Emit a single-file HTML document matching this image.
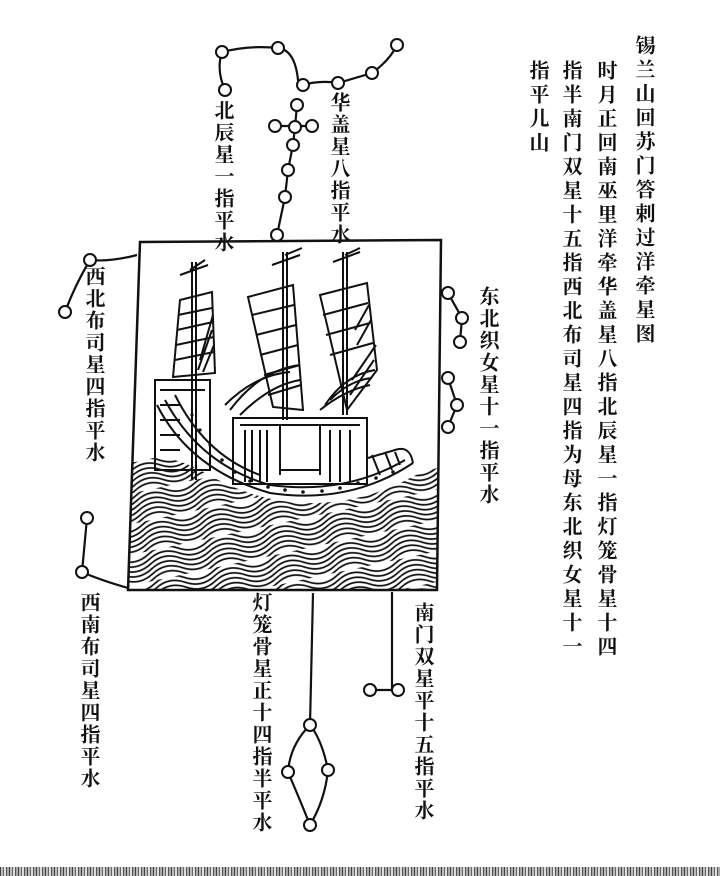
<!DOCTYPE html>
<html><head><meta charset="utf-8"><style>
html,body{margin:0;padding:0;background:#fff;}
body{width:720px;height:876px;position:relative;overflow:hidden;font-family:"Liberation Sans","Noto Serif CJK SC","Noto Sans CJK SC",serif;}
.c{position:absolute;writing-mode:vertical-rl;font-size:20px;font-weight:bold;color:#111;line-height:1;white-space:nowrap;}
.strip{position:absolute;left:0;top:867px;width:720px;height:9px;background:repeating-linear-gradient(90deg,#444 0 1px,#bbb 1px 3px,#666 3px 4px,#ddd 4px 6px,#555 6px 7px,#aaa 7px 9px);}
</style></head><body>
<svg width="720" height="876" style="position:absolute;left:0;top:0" xmlns="http://www.w3.org/2000/svg">
<defs>
<pattern id="w" width="60" height="30" patternUnits="userSpaceOnUse" patternTransform="rotate(-12)">
<g fill="none" stroke="#111" stroke-width="1.7">
<path d="M-30 3 Q-15 -6 0 3 T30 3 T60 3 T90 3"/>
<path d="M-30 8 Q-15 -1 0 8 T30 8 T60 8 T90 8"/>
<path d="M-30 13 Q-15 4 0 13 T30 13 T60 13 T90 13"/>
<path d="M-30 18 Q-15 9 0 18 T30 18 T60 18 T90 18"/>
<path d="M-30 23 Q-15 14 0 23 T30 23 T60 23 T90 23"/>
<path d="M-30 28 Q-15 19 0 28 T30 28 T60 28 T90 28"/>
</g></pattern>
<clipPath id="box"><polygon points="140,242 441,240 437,590 128,590"/></clipPath>
</defs>
<g clip-path="url(#box)">
<path d="M128 460 Q160 450 200 470 Q250 500 300 503 Q360 505 410 478 Q430 468 441 468 L441 592 L128 592 Z" fill="url(#w)"/>
</g>
<polygon points="140,242 441,240 437,590 128,590" fill="none" stroke="#111" stroke-width="2.5"/>
<g fill="none" stroke="#111" stroke-width="2">
<line x1="192" y1="262" x2="192" y2="480"/><line x1="196" y1="262" x2="196" y2="480"/>
<line x1="283" y1="252" x2="283" y2="420"/><line x1="287" y1="252" x2="287" y2="420"/>
<line x1="343" y1="252" x2="343" y2="415"/><line x1="347" y1="252" x2="347" y2="415"/>
<path d="M180 275 L208 265 M190 270 L205 260 M272 265 L300 255 M285 255 L302 248 M333 262 L360 252 M345 255 L360 248"/>
<path d="M180 300 L212 292 L215 373 L173 377 Z"/>
<path d="M178 315 L212 308 M177 330 L213 322 M176 345 L214 337 M175 360 L214 352 M198 370 L212 330 M200 360 L213 315 M203 372 L214 345"/>
<path d="M248 297 L293 285 L303 410 L273 407 Z"/>
<path d="M252 315 L294 305 M256 335 L296 325 M260 355 L298 345 M264 375 L300 365 M268 395 L301 385"/>
<path d="M320 295 L367 283 L377 370 L347 410 Z"/>
<path d="M323 315 L368 303 M326 335 L370 323 M330 355 L373 343 M352 380 L376 345 M350 395 L374 360 M355 330 L369 305 M357 345 L371 320"/>
<path d="M230 410 Q260 370 300 365 M240 415 Q270 385 300 380 M225 405 Q255 375 290 372 M325 405 Q345 375 375 370 M320 410 Q345 390 370 385 M330 400 Q350 380 372 378"/>
<rect x="155" y="380" width="55" height="90"/>
<path d="M160 390 L205 390 M160 405 L180 405 M160 420 L180 420 M160 435 L180 435 M160 450 L180 450"/>
<path d="M157 405 Q190 470 270 493 Q350 505 413 463"/>
<path d="M165 400 Q200 465 270 485 Q345 495 405 460"/>
<path d="M175 395 Q205 455 260 475"/>
<path d="M413 463 Q410 445 395 450 L368 458"/>
<path d="M372 455 L380 475 M385 452 L392 470 M395 452 L400 465"/>
<rect x="233" y="418" width="134" height="66"/>
<path d="M240 425 L360 425 M245 430 L245 482 M252 430 L252 482 M260 430 L260 482 M267 430 L267 482 M280 425 L280 475 M320 425 L320 475 M280 470 L320 470 M330 430 L330 482 M340 430 L340 482 M350 430 L350 482"/>
</g>
<g fill="#111">
<circle cx="192" cy="415" r="1.6"/><circle cx="200" cy="430" r="1.6"/><circle cx="210" cy="445" r="1.6"/><circle cx="222" cy="460" r="1.8"/><circle cx="235" cy="472" r="1.8"/><circle cx="250" cy="481" r="1.8"/><circle cx="268" cy="487" r="1.8"/><circle cx="285" cy="490" r="1.8"/><circle cx="303" cy="492" r="1.8"/><circle cx="322" cy="491" r="1.8"/><circle cx="340" cy="488" r="1.8"/><circle cx="358" cy="483" r="1.8"/><circle cx="376" cy="478" r="1.8"/><circle cx="393" cy="472" r="1.8"/>
</g>
<g fill="none" stroke="#111" stroke-width="2.2">
<path d="M225 90 Q216 70 222 52 Q250 45 278 48 Q295 50 298 80 L303 85 Q320 80 338 83 L372 73 Q390 60 397 45"/>
<path d="M275 126 L312 126 M297 105 L295 127 L293 145 L288 170 L285 197 L277 235"/>
<path d="M137 255 Q110 262 90 260 Q75 285 65 312"/>
<path d="M448 293 L462 318 L460 342 M448 378 L457 405 L448 427"/>
<path d="M87 518 L82 572 Q100 580 128 588"/>
<path d="M313 593 L310 725 Q290 745 288 772 Q300 800 310 825 Q325 800 328 770 Q322 740 310 725"/>
<path d="M392 592 L392 690 M370 690 L398 690"/>
</g>
<g fill="#fff" stroke="#111" stroke-width="2">
<circle cx="222" cy="52" r="6"/><circle cx="225" cy="90" r="6"/><circle cx="278" cy="48" r="6"/><circle cx="303" cy="85" r="6"/><circle cx="338" cy="83" r="6"/><circle cx="372" cy="73" r="6"/><circle cx="397" cy="45" r="6"/>
<circle cx="295" cy="127" r="6"/><circle cx="297" cy="105" r="6"/><circle cx="275" cy="126" r="6"/><circle cx="312" cy="126" r="6"/><circle cx="293" cy="145" r="6"/><circle cx="288" cy="170" r="6"/><circle cx="285" cy="197" r="6"/><circle cx="277" cy="235" r="6"/>
<circle cx="90" cy="260" r="6"/><circle cx="65" cy="312" r="6"/>
<circle cx="448" cy="293" r="6"/><circle cx="462" cy="318" r="6"/><circle cx="460" cy="342" r="6"/><circle cx="448" cy="378" r="6"/><circle cx="457" cy="405" r="6"/><circle cx="448" cy="427" r="6"/>
<circle cx="87" cy="518" r="6"/><circle cx="82" cy="572" r="6"/>
<circle cx="310" cy="725" r="6"/><circle cx="288" cy="772" r="6"/><circle cx="328" cy="770" r="6"/><circle cx="310" cy="825" r="6"/>
<circle cx="370" cy="690" r="6"/><circle cx="398" cy="690" r="6"/>
</g>
</svg>
<div class="c" style="left:633px;top:35px;letter-spacing:4px">锡兰山回苏门答剌过洋牵星图</div>
<div class="c" style="left:595px;top:60px;letter-spacing:4px">时月正回南巫里洋牵华盖星八指北辰星一指灯笼骨星十四</div>
<div class="c" style="left:560px;top:60px;letter-spacing:4px">指半南门双星十五指西北布司星四指为母东北织女星十一</div>
<div class="c" style="left:527px;top:60px;letter-spacing:4px">指平儿山</div>
<div class="c" style="left:212px;top:100px;letter-spacing:2px">北辰星一指平水</div>
<div class="c" style="left:328px;top:92px;letter-spacing:2px">华盖星八指平水</div>
<div class="c" style="left:83px;top:266px;letter-spacing:2px">西北布司星四指平水</div>
<div class="c" style="left:477px;top:286px;letter-spacing:2px">东北织女星十一指平水</div>
<div class="c" style="left:78px;top:592px;letter-spacing:2px">西南布司星四指平水</div>
<div class="c" style="left:250px;top:592px;letter-spacing:2px">灯笼骨星正十四指半平水</div>
<div class="c" style="left:412px;top:602px;letter-spacing:2px">南门双星平十五指平水</div>
<div class="strip"></div>
</body></html>
